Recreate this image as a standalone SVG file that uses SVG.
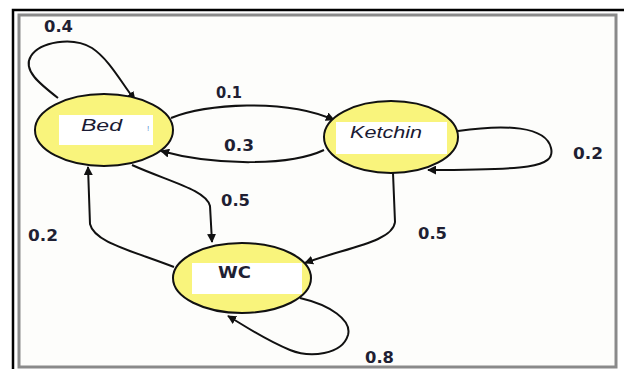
<svg xmlns="http://www.w3.org/2000/svg" width="624" height="369" viewBox="0 0 624 369">
  <style>
    .frame-outer { fill: none; stroke: #000; stroke-width: 2.5; }
    .frame-inner { fill: #fdfdfb; stroke: #8a8a8a; stroke-width: 3; }
    .state { fill: #f9f47c; stroke: #111; stroke-width: 2; }
    .box { fill: #fff; }
    .name { font-family: "Liberation Sans", Arial, sans-serif; font-size: 16px; font-style: italic; fill: #1a1a33; }
    .edge { fill: none; stroke: #111; stroke-width: 2; marker-end: url(#arrow); }
    .prob { font-family: "DejaVu Sans", Verdana, sans-serif; font-weight: bold; font-size: 15px; fill: #1f1f33; }
  </style>
  <defs>
    <marker id="arrow" viewBox="0 0 10 10" refX="9" refY="5" markerWidth="9" markerHeight="9" markerUnits="userSpaceOnUse" orient="auto">
      <path d="M0,0 L10,5 L0,10 Z" fill="#111"/>
    </marker>
  </defs>

  <rect width="624" height="369" fill="#fff"/>
  <!-- frame -->
  <rect class="frame-inner" x="19" y="15" width="597" height="352"/>
  <path class="frame-outer" d="M13,369 L13,10 L624,10"/>

  <!-- transitions -->
  <g id="connectors">
    <path class="edge" d="M58,98 C40,84 22,70 31,56 C40,42 72,36 92,48 C110,60 122,84 135,100"/>
    <path class="edge" d="M171,118 C205,104 285,98 334,120"/>
    <path class="edge" d="M324,150 C290,166 215,166 161,151"/>
    <path class="edge" d="M458,131 C505,124 546,126 551,148 C556,168 525,170 428,170"/>
    <path class="edge" d="M132,165 C170,182 206,190 210,206 L212,242"/>
    <path class="edge" d="M174,267 C130,250 94,242 90,224 L88,167"/>
    <path class="edge" d="M393,173 L395,222 C393,242 345,248 305,263"/>
    <path class="edge" d="M300,298 C330,305 352,320 348,335 C342,355 310,358 290,350 C265,340 245,326 228,316"/>
  </g>

  <!-- states -->
  <g id="bed">
    <ellipse class="state" cx="104" cy="130" rx="69" ry="36"/>
    <rect class="box" x="59" y="115" width="94" height="30"/>
    <text class="name" x="81" y="131" textLength="41" lengthAdjust="spacingAndGlyphs">Bed</text>
    <text x="147" y="131" font-family="Liberation Sans, sans-serif" font-size="8" fill="#5a8fd0">!</text>
  </g>
  <g id="ketchin">
    <ellipse class="state" cx="391" cy="137" rx="67" ry="36"/>
    <rect class="box" x="336" y="122" width="111" height="32"/>
    <text class="name" x="350" y="138" textLength="72" lengthAdjust="spacingAndGlyphs">Ketchin</text>
  </g>
  <g id="wc">
    <ellipse class="state" cx="242" cy="278" rx="69" ry="35"/>
    <rect class="box" x="192" y="263" width="110" height="31"/>
    <text class="prob" x="218" y="278" textLength="33" lengthAdjust="spacingAndGlyphs">WC</text>
  </g>

  <!-- transition probabilities -->
  <g id="labels">
    <text class="prob" x="44" y="32" textLength="29" lengthAdjust="spacingAndGlyphs">0.4</text>
    <text class="prob" x="216" y="98" textLength="26" lengthAdjust="spacingAndGlyphs">0.1</text>
    <text class="prob" x="224" y="151" textLength="30" lengthAdjust="spacingAndGlyphs">0.3</text>
    <text class="prob" x="573" y="159" textLength="30" lengthAdjust="spacingAndGlyphs">0.2</text>
    <text class="prob" x="221" y="206" textLength="29" lengthAdjust="spacingAndGlyphs">0.5</text>
    <text class="prob" x="28" y="241" textLength="30" lengthAdjust="spacingAndGlyphs">0.2</text>
    <text class="prob" x="418" y="239" textLength="29" lengthAdjust="spacingAndGlyphs">0.5</text>
    <text class="prob" x="365" y="363" textLength="29" lengthAdjust="spacingAndGlyphs">0.8</text>
  </g>
</svg>
